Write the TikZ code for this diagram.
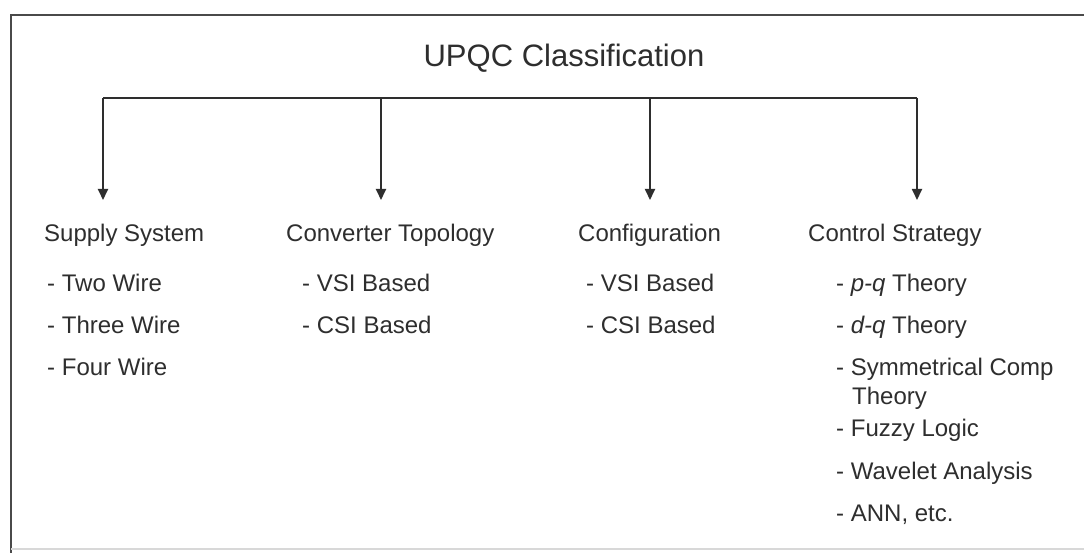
\documentclass[tikz,border=0pt]{standalone}
\usepackage{fontspec}
\setmainfont{Liberation Sans}
\usetikzlibrary{arrows.meta}
\definecolor{inkgray}{HTML}{2E2E2E}
\definecolor{framegray}{HTML}{4A4A4A}
\definecolor{faintgray}{HTML}{D8D8D8}
\tikzset{
  lbl/.style={anchor=base west, inner sep=0pt, text=inkgray, font=\fontsize{24}{28}\selectfont},
  ttl/.style={anchor=base, inner sep=0pt, text=inkgray, font=\fontsize{31}{36}\selectfont},
  wire/.style={draw=inkgray, line width=1.8pt},
  drop/.style={wire, -{Triangle[width=10pt,length=11pt]}},
  framel/.style={draw=framegray, line width=2pt},
}
\begin{document}
\begin{tikzpicture}[x=1pt,y=-1pt]
\useasboundingbox (0,0) rectangle (1084,553);
\fill[white] (0,0) rectangle (1084,553);
% frame
\draw[framel] (11,553) -- (11,15) -- (1090,15);
\draw[draw=faintgray, line width=1.5pt] (11,549) -- (1090,549);

% title
\node[ttl] (title) at (564,67) {UPQC Classification};

% bar and drops
\coordinate (j1) at (103,98);
\coordinate (j2) at (381,98);
\coordinate (j3) at (650,98);
\coordinate (j4) at (917,98);
\coordinate (t1) at (103,200);
\coordinate (t2) at (381,200);
\coordinate (t3) at (650,200);
\coordinate (t4) at (917,200);
\draw[wire] (j1) -- (j4);
\draw[drop] (j1) -- (t1);
\draw[drop] (j2) -- (t2);
\draw[drop] (j3) -- (t3);
\draw[drop] (j4) -- (t4);

% headers
\node[lbl] (h1) at (44,242) {Supply System};
\node[lbl] (h2) at (286,242) {Converter Topology};
\node[lbl] (h3) at (578,242) {Configuration};
\node[lbl] (h4) at (808,242) {Control Strategy};

% column 1
\node[lbl] (a1) at (47,292) {- Two Wire};
\node[lbl] (a2) at (47,333) {- Three Wire};
\node[lbl] (a3) at (47,375) {- Four Wire};

% column 2
\node[lbl] (b1) at (302,292) {- VSI Based};
\node[lbl] (b2) at (302,333) {- CSI Based};

% column 3
\node[lbl] (c1) at (586,292) {- VSI Based};
\node[lbl] (c2) at (586,333) {- CSI Based};

% column 4
\node[lbl] (d1) at (836,292) {- \textit{p-q} Theory};
\node[lbl] (d2) at (836,333) {- \textit{d-q} Theory};
\node[lbl] (d3) at (836,375) {- Symmetrical Comp};
\node[lbl] (d3b) at (852,404) {Theory};
\node[lbl] (d4) at (836,436) {- Fuzzy Logic};
\node[lbl] (d5) at (836,479) {- Wavelet Analysis};
\node[lbl] (d6) at (836,521) {- ANN, etc.};
\end{tikzpicture}
\end{document}
